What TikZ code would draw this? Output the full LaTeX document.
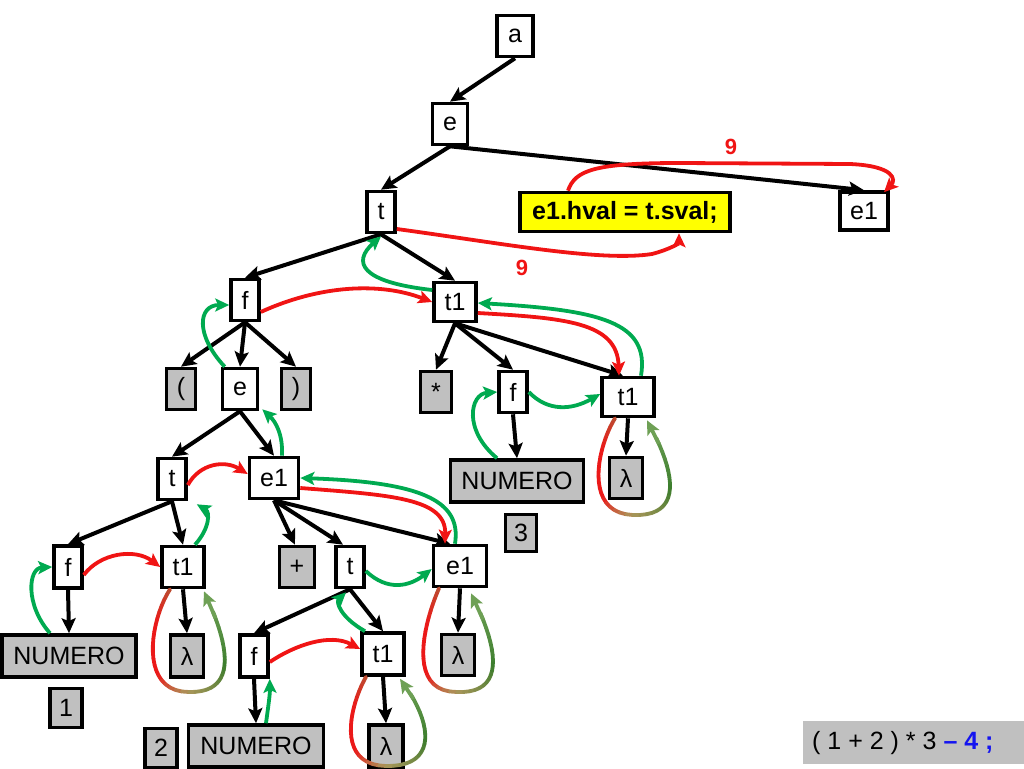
\documentclass[tikz,border=0pt]{standalone}
\usepackage{fontspec}
\setmainfont{Liberation Sans}
\usetikzlibrary{arrows.meta}
\definecolor{myred}{RGB}{240,20,20}
\definecolor{mygreen}{RGB}{0,170,80}
\definecolor{boxgray}{RGB}{192,192,192}
\definecolor{exblue}{RGB}{20,20,240}
\definecolor{lred}{RGB}{235,25,25}
\definecolor{lbrown}{RGB}{185,80,50}
\definecolor{lmid}{RGB}{170,150,90}
\definecolor{lgreen}{RGB}{60,125,45}
\definecolor{llight}{RGB}{110,160,85}
\definecolor{yel}{RGB}{255,255,0}
\tikzset{
  bx/.style={draw, line width=3.6pt, inner sep=0pt, minimum height=41pt, font=\fontsize{25pt}{30pt}\selectfont},
  wb/.style={bx, fill=white},
  gb/.style={bx, fill=boxgray},
  blk/.style={line width=4pt, -{Stealth[length=15pt,width=14pt,inset=3pt]}},
  rd/.style={line width=3.8pt, draw=myred, -{Stealth[length=14pt,width=13pt,inset=3pt]}},
  gr/.style={line width=3.8pt, draw=mygreen, -{Stealth[length=14pt,width=13pt,inset=3pt]}},
  loopline/.style={line width=3.8pt, line cap=round},
  nine/.style={text=myred, font=\fontsize{22pt}{26pt}\selectfont\bfseries, inner sep=0pt},
}
\newcommand{\lamloop}[7]{%
  \foreach \k in {1,...,20}{%
    \pgfmathsetmacro{\ta}{(\k-1)/20}\pgfmathsetmacro{\tb}{\k/20}\pgfmathsetmacro{\gt}{(\k-0.5)/20}%
    \pgfmathtruncatemacro{\pp}{max(0,100*(1-\gt/0.3))}%
    \pgfmathtruncatemacro{\qq}{min(100,100*(1-\gt)/0.3)}%
    \path #1 .. controls #2 and #3 .. #4 coordinate[pos=\ta] (ga) coordinate[pos=\tb] (gb);%
    \draw[loopline, draw=lbrown!\pp!lred!\qq!lmid] (ga) -- (gb);%
  }%
  \foreach \k in {1,...,18}{%
    \pgfmathsetmacro{\ta}{0.88*(\k-1)/18}\pgfmathsetmacro{\tb}{0.88*\k/18}\pgfmathsetmacro{\gt}{0.88*(\k-0.5)/18}%
    \pgfmathtruncatemacro{\pp}{max(0,100*(1-2*\gt))}%
    \pgfmathtruncatemacro{\qq}{min(100,100*(2-2*\gt))}%
    \path #4 .. controls #5 and #6 .. #7 coordinate[pos=\ta] (ga) coordinate[pos=\tb] (gb);%
    \draw[loopline, draw=lmid!\pp!lgreen!\qq!llight] (ga) -- (gb);%
  }%
  \path #4 .. controls #5 and #6 .. #7 coordinate[pos=0.84] (ga);%
  \draw[line width=3.8pt, draw=llight, fill=llight, -{Stealth[length=14pt,width=13pt,inset=3pt]}] (ga) -- #7;%
}
\begin{document}
\begin{tikzpicture}[x=1pt,y=-1pt]
\useasboundingbox (0,0) rectangle (1024,768);
% nodes
\node[wb, minimum width=36pt] (a) at (515,36) {a};
\node[wb, minimum width=35pt] (e0) at (450,124) {e};
\node[wb, minimum width=28pt] (t0) at (381,212) {t};
\node[bx, fill=yel, minimum width=210pt, minimum height=39pt, font=\fontsize{25pt}{30pt}\selectfont\bfseries] (y) at (625,212) {e1.hval = t.sval;};
\node[wb, minimum width=48pt, minimum height=38pt] (e1a) at (864,211) {e1};
\node[wb, minimum width=28pt] (f1) at (245,300) {f};
\node[wb, minimum width=42pt, minimum height=39pt] (t1a) at (455,302) {t1};
\node[gb, minimum width=29pt] (lp) at (181,389) {(};
\node[wb, minimum width=35pt] (e2) at (240,389) {e};
\node[gb, minimum width=29pt] (rp) at (296,389) {)};
\node[gb, minimum width=31pt] (star) at (436,392) {*};
\node[wb, minimum width=28pt] (f2) at (513,392) {f};
\node[wb, minimum width=52pt, minimum height=39pt] (t1b) at (628,397) {t1};
\node[gb, minimum width=133pt, minimum height=42pt] (num3) at (517,481) {NUMERO};
\node[gb, minimum width=31pt, minimum height=37pt] (three) at (521,533) {3};
\node[gb, minimum width=33pt] (lam1) at (626,478) {λ};
\node[wb, minimum width=28pt] (t3) at (172,479) {t};
\node[wb, minimum width=49pt] (e1b) at (274,478) {e1};
\node[wb, minimum width=28pt, minimum height=42pt] (f4) at (68,567) {f};
\node[wb, minimum width=42pt] (t1c) at (183,567) {t1};
\node[gb, minimum width=134pt, minimum height=42pt] (num1) at (69,656) {NUMERO};
\node[gb, minimum width=32pt, minimum height=39pt] (one) at (66,708) {1};
\node[gb, minimum width=33pt, minimum height=42pt] (lam2) at (187,656) {λ};
\node[gb, minimum width=35pt] (plus) at (297,567) {+};
\node[wb, minimum width=28pt] (t4) at (350,567) {t};
\node[wb, minimum width=53pt] (e1c) at (460,566) {e1};
\node[wb, minimum width=28pt, minimum height=42pt] (f5) at (254,656) {f};
\node[wb, minimum width=42pt, minimum height=42pt] (t1d) at (383,654) {t1};
\node[gb, minimum width=33pt] (lam3) at (458,655) {λ};
\node[gb, minimum width=32pt, minimum height=39pt] (two) at (161,748) {2};
\node[gb, minimum width=135pt, minimum height=42pt] (num2) at (256,746) {NUMERO};
\node[gb, minimum width=34pt, minimum height=42pt] (lam4) at (386,746) {λ};
% labels
\node[nine] (n9a) at (731,147) {9};
\node[nine] (n9b) at (522,268) {9};
% expression box
\node[fill=boxgray, minimum width=221pt, minimum height=43pt, inner sep=0pt] (expr) at (913.5,742.5) {};
\node[anchor=west, inner sep=0pt, font=\fontsize{25pt}{30pt}\selectfont] (exprtext) at (812,743) {( 1 + 2 ) * 3 \textcolor{exblue}{\bfseries – 4 ;}};
% tree edges
\draw[blk] (a.south) -- (e0.north);
\draw[blk] (e0.south) -- (t0.north);
\draw[blk] (e0.south) -- (e1a.north);
\draw[blk] (t0.south) -- (f1.north);
\draw[blk] (t0.south) -- (t1a.north);
\draw[blk] (f1.south) -- (lp.north);
\draw[blk] (f1.south) -- (e2.north);
\draw[blk] (f1.south) -- (rp.north);
\draw[blk] (e2.south) -- (t3.north);
\draw[blk] (e2.south) -- (e1b.north);
\draw[blk] (t1a.south) -- (star.north);
\draw[blk] (t1a.south) -- (f2.north);
\draw[blk] (t1a.south) -- ([xshift=-5pt]t1b.north);
\draw[blk] (f2.south) -- (num3.north);
\draw[blk] (t1b.south) -- (lam1.north);
\draw[blk] (t3.south) -- (f4.north);
\draw[blk] (t3.south) -- (t1c.north);
\draw[blk] (e1b.south) -- ([xshift=-2pt]plus.north);
\draw[blk] (e1b.south) -- ([xshift=-7pt]t4.north);
\draw[blk] (e1b.south) -- ([xshift=-10pt]e1c.north);
\draw[blk] (f4.south) -- (num1.north);
\draw[blk] (t1c.south) -- (lam2.north);
\draw[blk] (t4.south) -- (f5.north);
\draw[blk] (t4.south) -- (t1d.north);
\draw[blk] (e1c.south) -- (lam3.north);
\draw[blk] (f5.south) -- (num2.north);
\draw[blk] (t1d.south) -- (lam4.north);
% red arrows
\draw[rd] ([yshift=-17pt]t0.east) .. controls (500,243) and (600,262) .. (652,254) .. controls (671,249) and (679,243) .. ([xshift=54pt]y.south);
\draw[rd] ([xshift=-57pt]y.north) .. controls (575,170) and (595,163) .. (680,163) -- (850,164) .. controls (895,166) and (896,180) .. ([xshift=20pt,yshift=-2pt]e1a.north);
\draw[rd] ([yshift=-12pt]f1.east) .. controls (320,285) and (380,282) .. (t1a.west);
\draw[rd] ([yshift=-11pt]t1a.east) .. controls (565,318) and (617,322) .. ([xshift=-9pt]t1b.north);
\draw[rd] ([yshift=-6pt]t3.east) .. controls (200,463) and (225,460) .. ([yshift=4pt]e1b.west);
\draw[rd] ([yshift=-10pt]e1b.east) .. controls (390,495) and (446,498) .. ([xshift=-15pt]e1c.north);
\draw[rd] ([yshift=-8pt]f4.east) .. controls (100,553) and (135,548) .. (t1c.west);
\draw[rd] ([yshift=-6pt]f5.east) .. controls (295,645) and (330,633) .. ([yshift=5pt]t1d.west);
% green arrows
\draw[gr] ([yshift=12pt]t1a.west) .. controls (360,282) and (352,262) .. ([yshift=-2pt]t0.south);
\draw[gr] ([xshift=13pt]t1b.north) .. controls (650,322) and (600,310) .. ([yshift=-1pt]t1a.east);
\draw[gr] ([xshift=4pt]e2.north west) .. controls (195,335) and (198,305) .. ([yshift=-5pt]f1.west);
\draw[gr] ([xshift=8pt]e1b.north) .. controls (283,435) and (276,422) .. ([xshift=3pt,yshift=2pt]e2.south east);
\draw[gr] ([xshift=-20pt]num3.north) .. controls (463,430) and (470,394) .. (f2.west);
\draw[gr] (f2.east) .. controls (548,412) and (572,410) .. ([yshift=3pt]t1b.west);
\draw[gr] ([xshift=-5pt]e1c.north) .. controls (462,500) and (420,482) .. (e1b.east);
\draw[gr] ([xshift=12pt]t1c.north) .. controls (210,528) and (210,512) .. ([xshift=9pt,yshift=-3pt]t3.south east);
\draw[gr] ([xshift=-19pt]num1.north) .. controls (25,605) and (28,568) .. (f4.west);
\draw[gr] ([yshift=-4pt]t4.east) .. controls (388,592) and (410,586) .. ([yshift=-3pt]e1c.west);
\draw[gr] ([xshift=-18pt]t1d.north) .. controls (340,617) and (336,602) .. ([xshift=-4pt,yshift=-3pt]t4.south);
\draw[gr] ([xshift=10pt]num2.north) .. controls (268,708) and (270,695) .. (f5.south east);
% lambda loops
\lamloop{([xshift=-13pt]t1c.south)}{(150,620)}{(138,692)}{(189,692)}{(236,693)}{(232,650)}{([xshift=21pt,yshift=-2pt]t1c.south)}
\lamloop{([xshift=-13pt]t1b.south)}{(598,445)}{(582,513)}{(633,515)}{(685,517)}{(675,470)}{([xshift=19pt,yshift=-2pt]t1b.south)}
\lamloop{([xshift=-21pt]e1c.south)}{(425,620)}{(405,692)}{(457,692)}{(505,694)}{(500,650)}{([xshift=11pt,yshift=-5pt]e1c.south)}
\lamloop{([xshift=-17pt]t1d.south)}{(350,705)}{(335,765)}{(386,766)}{(440,767)}{(432,720)}{([xshift=17pt,yshift=-2pt]t1d.south)}
\end{tikzpicture}
\end{document}
